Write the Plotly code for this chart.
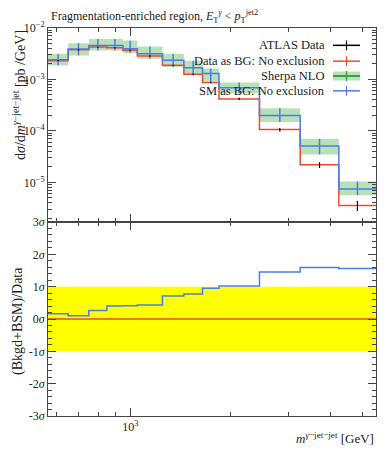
import numpy as np
import plotly.graph_objects as go
from plotly.subplots import make_subplots

# ---------------- data ----------------
edges = [565, 650, 750, 850, 950, 1050, 1250, 1450, 1650, 1850, 2450, 3250, 4250, 5500]
atlas_data = [2.32e-3, 3.78e-3, 4.26e-3, 4.12e-3, 3.69e-3, 2.86e-3, 1.88e-3,
              1.26e-3, 8.75e-4, 4.18e-4, 1.06e-4, 2.19e-5, 3.56e-6]
atlas_err_rel = [0.03, 0.03, 0.03, 0.03, 0.03, 0.03, 0.03, 0.04, 0.04, 0.05, 0.077, 0.13, 0.22]
sherpa_nlo = [2.42e-3, 3.89e-3, 4.57e-3, 4.57e-3, 3.94e-3, 3.16e-3, 2.35e-3,
              1.68e-3, 1.30e-3, 6.9e-4, 2.0e-4, 5.08e-5, 7.43e-6]
sherpa_hi = [3.16e-3, 5.08e-3, 6.14e-3, 6.14e-3, 5.70e-3, 4.37e-3, 3.16e-3,
             2.32e-3, 1.63e-3, 8.75e-4, 2.77e-4, 7.02e-5, 1.04e-5]
sherpa_lo = [1.86e-3, 2.93e-3, 3.66e-3, 3.66e-3, 3.26e-3, 2.54e-3, 1.75e-3,
             1.26e-3, 9.16e-4, 5.38e-4, 1.49e-4, 3.50e-5, 5.62e-6]
pull_sm = [0.16, 0.10, 0.26, 0.40, 0.41, 0.43, 0.71, 0.77, 0.95, 1.02, 1.45, 1.59, 1.56]
pull_data = [0.0] * 13

y_main_ticks = [1e-2, 1e-3, 1e-4, 1e-5]
y_main_text = ["10<sup>−2</sup>", "10<sup>−3</sup>", "10<sup>−4</sup>", "10<sup>−5</sup>"]
y_ratio_ticks = [3, 2, 1, 0, -1, -2, -3]
y_ratio_text = ["3<i>σ</i>", "2<i>σ</i>", "1<i>σ</i>", "0<i>σ</i>", "-1<i>σ</i>", "-2<i>σ</i>", "-3<i>σ</i>"]
x_ticks = [1000]
x_text = ["10<sup>3</sup>"]

# ---------------- style ----------------
RED = "#ee4a30"
BLUE = "#4a7de8"
GREEN_BAND = "rgba(80,180,80,0.40)"
GREEN_LINE = "#3f9f3f"
FONT = "Liberation Serif"
AX = "#444444"

OFF = 8  # page body margin
W, H = 389 - OFF, 450 - OFF
ML, MR, MT, MB = 48 - OFF, 13, 24 - OFF, 34
PW, PH = W - ML - MR, H - MT - MB


def px(xw):
    return (xw - OFF - ML) / PW


def py(yw):
    return 1 - (yw - OFF - MT) / PH


def step(vals):
    return list(vals) + [vals[-1]]


centers = [np.sqrt(a * b) for a, b in zip(edges[:-1], edges[1:])]

fig = make_subplots(rows=2, cols=1, shared_xaxes=True, vertical_spacing=0,
                    row_heights=[0.5, 0.5])

# Sherpa band
fig.add_trace(go.Scatter(x=edges, y=step(sherpa_lo), mode="lines", line=dict(width=0, shape="hv"),
                         showlegend=False, hoverinfo="skip"), row=1, col=1)
fig.add_trace(go.Scatter(x=edges, y=step(sherpa_hi), mode="lines", line=dict(width=0, shape="hv"),
                         fill="tonexty", fillcolor=GREEN_BAND, showlegend=False, hoverinfo="skip"),
              row=1, col=1)
# Data as BG (red)
fig.add_trace(go.Scatter(x=edges, y=step(atlas_data), mode="lines",
                         line=dict(color=RED, width=1.5, shape="hv"), showlegend=False), row=1, col=1)
# SM as BG (blue)
fig.add_trace(go.Scatter(x=edges, y=step(sherpa_nlo), mode="lines",
                         line=dict(color=BLUE, width=1.5, shape="hv"), showlegend=False), row=1, col=1)
fig.add_trace(go.Scatter(x=centers, y=sherpa_nlo, mode="markers", marker=dict(size=0.1, color=BLUE),
                         error_y=dict(type="data", symmetric=False,
                                      array=[h - v for h, v in zip(sherpa_hi, sherpa_nlo)],
                                      arrayminus=[v - l for v, l in zip(sherpa_nlo, sherpa_lo)],
                                      color=BLUE, thickness=1.5, width=0),
                         showlegend=False), row=1, col=1)
# ATLAS data
fig.add_trace(go.Scatter(x=centers, y=atlas_data, mode="markers", marker=dict(size=0.1, color="black"),
                         error_y=dict(type="data", array=[v * r for v, r in zip(atlas_data, atlas_err_rel)],
                                      color="black", thickness=1.2, width=0),
                         showlegend=False), row=1, col=1)

# ratio panel
fig.add_trace(go.Scatter(x=[edges[0], edges[-1]], y=[-1, -1], mode="lines", line=dict(width=0),
                         showlegend=False, hoverinfo="skip"), row=2, col=1)
fig.add_trace(go.Scatter(x=[edges[0], edges[-1]], y=[1, 1], mode="lines", line=dict(width=0),
                         fill="tonexty", fillcolor="#ffff00", showlegend=False, hoverinfo="skip"),
              row=2, col=1)
fig.add_trace(go.Scatter(x=edges, y=step(pull_data), mode="lines",
                         line=dict(color=RED, width=1.5, shape="hv"), showlegend=False), row=2, col=1)
fig.add_trace(go.Scatter(x=edges, y=step(pull_sm), mode="lines",
                         line=dict(color=BLUE, width=1.5, shape="hv"), showlegend=False), row=2, col=1)

# ---------------- axes ----------------
x_minor = [600, 700, 800, 900, 2000, 3000, 4000, 5000]
xcommon = dict(type="log", range=[np.log10(edges[0]), np.log10(edges[-1])],
               showline=True, linecolor=AX, linewidth=1, mirror="allticks",
               ticks="inside", ticklen=8, tickcolor=AX, tickvals=x_ticks, ticktext=x_text,
               minor=dict(tickvals=x_minor, ticks="inside", ticklen=4, tickcolor=AX),
               showgrid=False, zeroline=False,
               tickfont=dict(family=FONT, size=12, color="#222"))
fig.update_xaxes(**xcommon)
fig.update_xaxes(showticklabels=False, row=1, col=1)

y_minor = []
for e in range(-6, -2):
    for m in range(2, 10):
        y_minor.append(m * 10.0 ** e)
fig.update_yaxes(type="log", range=[-5.77, -2], showline=True, linecolor=AX, linewidth=1,
                 mirror="allticks", ticks="inside", ticklen=8, tickcolor=AX,
                 tickvals=y_main_ticks, ticktext=y_main_text,
                 minor=dict(tickvals=y_minor, ticks="inside", ticklen=4, tickcolor=AX),
                 showgrid=False, zeroline=False,
                 tickfont=dict(family=FONT, size=12, color="#222"), row=1, col=1)
r_minor = [round(v, 1) for v in np.arange(-3, 3.01, 0.2)]
fig.update_yaxes(range=[-3, 3], showline=True, linecolor=AX, linewidth=1,
                 mirror="allticks", ticks="inside", ticklen=8, tickcolor=AX,
                 tickvals=y_ratio_ticks, ticktext=y_ratio_text,
                 minor=dict(tickvals=r_minor, ticks="inside", ticklen=4, tickcolor=AX),
                 showgrid=False, zeroline=False,
                 tickfont=dict(family=FONT, size=12, color="#222"), row=2, col=1)

# ---------------- text ----------------
ann = []
ann.append(dict(text="Fragmentation-enriched region, <i>E</i><sub>T</sub><sup><i>γ</i></sup> &lt; <i>p</i><sub>T</sub><sup>jet2</sup>",
                x=px(49), y=py(12), xref="paper", yref="paper", xanchor="left", yanchor="middle",
                showarrow=False, font=dict(family=FONT, size=12, color="#222")))
ann.append(dict(text="d<i>σ</i>/d<i>m</i><sup><i>γ</i>−jet−jet</sup> [pb /GeV]",
                x=px(8), y=py(24), xref="paper", yref="paper", xanchor="left", yanchor="top",
                textangle=-90, showarrow=False, font=dict(family=FONT, size=14, color="#222")))
ann.append(dict(text="(Bkgd+BSM)/Data",
                x=px(8), y=py(320), xref="paper", yref="paper", xanchor="left", yanchor="middle",
                textangle=-90, showarrow=False, font=dict(family=FONT, size=14, color="#222")))
ann.append(dict(text="<i>m</i><sup><i>γ</i>−jet−jet</sup> [GeV]",
                x=px(376), y=py(438), xref="paper", yref="paper", xanchor="right", yanchor="middle",
                showarrow=False, font=dict(family=FONT, size=13, color="#222")))

legend_labels = ["ATLAS Data", "Data as BG: No exclusion", "Sherpa NLO", "SM as BG: No exclusion"]
legend_colors = ["black", RED, GREEN_LINE, BLUE]
legend_rows = [41.5, 57.5, 72.5, 87.5]
shapes = []
x0, x1, xc = px(333), px(360), px(346.5)
for lab, col, yr in zip(legend_labels, legend_colors, legend_rows):
    ann.append(dict(text=lab, x=px(327), y=py(yr), xref="paper", yref="paper",
                    xanchor="right", yanchor="middle", showarrow=False,
                    font=dict(family=FONT, size=12.5, color="#222")))
    if lab == "Sherpa NLO":
        shapes.append(dict(type="rect", xref="paper", yref="paper", x0=x0, x1=x1,
                           y0=py(yr + 4.5), y1=py(yr - 4.5), fillcolor=GREEN_BAND, line=dict(width=0)))
        shapes.append(dict(type="line", xref="paper", yref="paper", x0=x0, x1=x1,
                           y0=py(yr), y1=py(yr), line=dict(color=GREEN_LINE, width=2)))
        shapes.append(dict(type="line", xref="paper", yref="paper", x0=xc, x1=xc,
                           y0=py(yr + 5), y1=py(yr - 5), line=dict(color=GREEN_LINE, width=1.5)))
    else:
        shapes.append(dict(type="line", xref="paper", yref="paper", x0=x0, x1=x1,
                           y0=py(yr), y1=py(yr), line=dict(color=col, width=1.5)))
        shapes.append(dict(type="line", xref="paper", yref="paper", x0=xc, x1=xc,
                           y0=py(yr + 5), y1=py(yr - 5), line=dict(color=col, width=1.2)))

fig.update_layout(width=W, height=H, margin=dict(l=ML, r=MR, t=MT, b=MB),
                  paper_bgcolor="white", plot_bgcolor="white",
                  annotations=ann, shapes=shapes, showlegend=False,
                  font=dict(family=FONT, color="#222"))

fig.write_html("out.html")
